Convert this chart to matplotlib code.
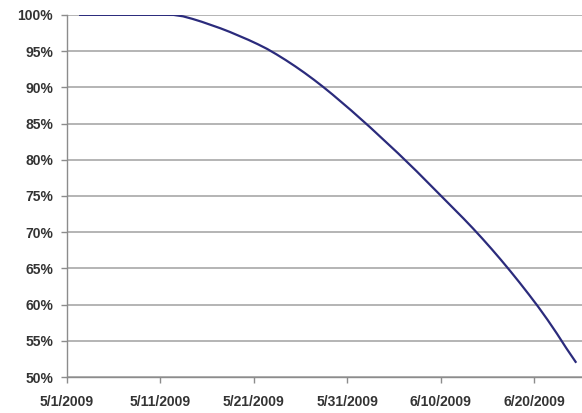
import datetime as dt
import matplotlib
matplotlib.use("Agg")
import matplotlib.pyplot as plt
import matplotlib.dates as mdates
from matplotlib.ticker import FuncFormatter

# daily values from 5/2/2009 to 6/24/2009 (% remaining)
values = [100, 100, 100, 100, 100, 100, 100, 100, 100, 100,
          99.99, 99.8, 99.45, 99.05, 98.6, 98.15, 97.65, 97.1, 96.55, 95.95,
          95.3, 94.55, 93.75, 92.9, 92.0, 91.05, 90.05, 89.0, 87.9, 86.8,
          85.65, 84.5, 83.3, 82.1, 80.9, 79.65, 78.4, 77.1, 75.8, 74.5,
          73.2, 71.9, 70.55, 69.15, 67.7, 66.2, 64.65, 63.05, 61.4, 59.7,
          57.9, 56.0, 54.0, 52.1]
y_ticks = [50, 55, 60, 65, 70, 75, 80, 85, 90, 95, 100]

start = dt.datetime(2009, 5, 1)
dates = [start + dt.timedelta(days=i + 1, hours=10) for i in range(len(values))]
x_ticks = [start + dt.timedelta(days=10 * i) for i in range(6)]

plt.rcParams['font.family'] = ['Liberation Sans', 'DejaVu Sans']

fig = plt.figure(figsize=(5.82, 4.13), dpi=100)
ax = fig.add_axes([0.115, 0.087, 0.885, 0.877])

ax.plot(dates, values, color='#2b2b7c', linewidth=1.6)

ax.set_ylim(50, 100)
ax.set_xlim(mdates.date2num(start), mdates.date2num(start + dt.timedelta(days=55.1)))
ax.set_yticks(y_ticks)
ax.yaxis.set_major_formatter(FuncFormatter(lambda v, p: f"{v:.0f}%"))
ax.set_xticks(x_ticks)
ax.xaxis.set_major_formatter(
    FuncFormatter(lambda v, p: (lambda d: f"{d.month}/{d.day}/{d.year}")(mdates.num2date(v))))

ax.grid(axis='y', color='#a8a8a8', linewidth=1.2)
ax.set_axisbelow(True)
for s in ['top', 'right']:
    ax.spines[s].set_visible(False)
for s in ['left', 'bottom']:
    ax.spines[s].set_color('#8c8c8c')
    ax.spines[s].set_linewidth(1.0)

ax.tick_params(axis='both', colors='#8c8c8c', length=4, width=1.0,
               labelcolor='#333333', labelsize=10)
ax.tick_params(axis='x', pad=9)
ax.tick_params(axis='y', pad=6)
for lab in ax.get_xticklabels() + ax.get_yticklabels():
    lab.set_fontweight('bold')

fig.savefig('out.png', dpi=100)
